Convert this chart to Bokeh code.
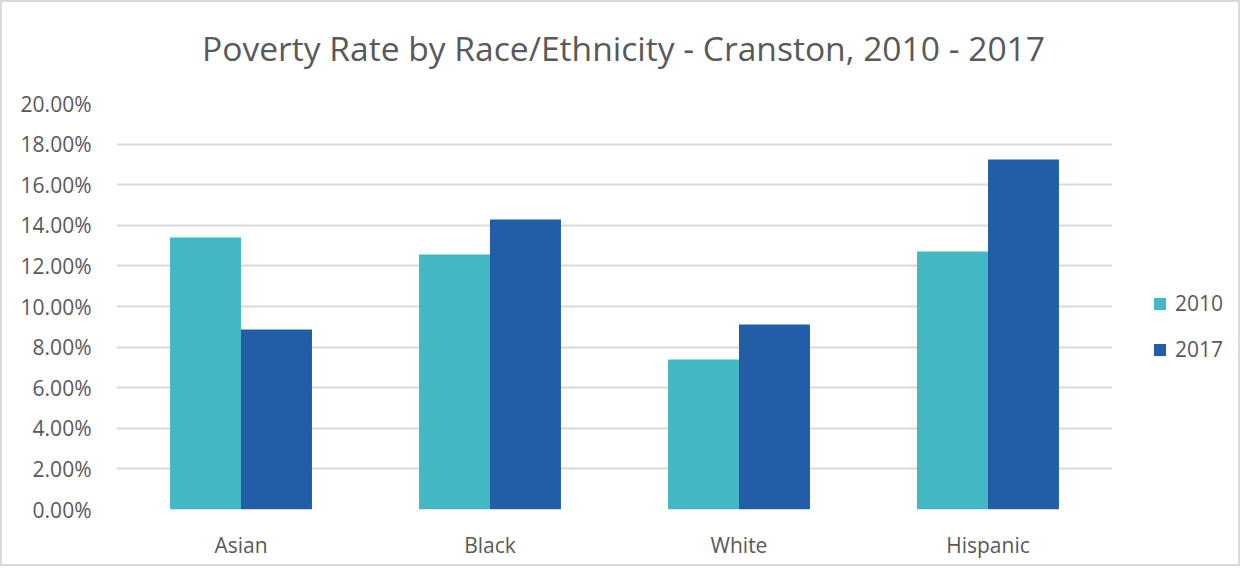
from bokeh.plotting import figure
from bokeh.layouts import row, column
from bokeh.models import ColumnDataSource, FactorRange, NumeralTickFormatter, Label
from bokeh.transform import dodge
from bokeh.embed import file_html
from bokeh.resources import INLINE

title_text = "Poverty Rate by Race/Ethnicity - Cranston, 2010 - 2017"
categories = ["Asian", "Black", "White", "Hispanic"]
years = ["2010", "2017"]
rate_2010 = [0.1340, 0.1256, 0.0739, 0.1271]
rate_2017 = [0.0887, 0.1429, 0.0911, 0.1724]
y_ticks = [0.0, 0.02, 0.04, 0.06, 0.08, 0.10, 0.12, 0.14, 0.16, 0.18, 0.20]

c2010 = "#41b8c4"
c2017 = "#225ea8"
txt = "#595959"
FONT = "Open Sans"

# title strip
tfig = figure(width=1236, height=81, x_range=(0, 1), y_range=(0, 1),
              output_backend="svg", toolbar_location=None, min_border=0)
tfig.axis.visible = False
tfig.grid.visible = False
tfig.outline_line_color = None
tfig.add_layout(Label(x=621, y=36, x_units="screen", y_units="screen", text=title_text,
                      text_align="center", text_baseline="middle", text_font=FONT,
                      text_font_size="33.6px", text_color=txt))

src = ColumnDataSource(dict(cat=categories, r2010=rate_2010, r2017=rate_2017))

p = figure(x_range=FactorRange(*categories, range_padding=0), y_range=(0, 0.2),
           width=1110, height=481, output_backend="svg", toolbar_location=None,
           min_border_left=114, min_border_right=0, min_border_top=20, min_border_bottom=55)

w = 0.285
p.vbar(x=dodge("cat", -w / 2, range=p.x_range), top="r2010", width=w, source=src,
       fill_color=c2010, line_color=None)
p.vbar(x=dodge("cat", w / 2, range=p.x_range), top="r2017", width=w, source=src,
       fill_color=c2017, line_color=None)

p.yaxis.ticker = y_ticks
p.yaxis.formatter = NumeralTickFormatter(format="0.00%")
for ax in (p.xaxis[0], p.yaxis[0]):
    ax.axis_line_color = None
    ax.major_tick_line_color = None
    ax.minor_tick_line_color = None
    ax.major_label_text_font = FONT
    ax.major_label_text_font_size = "21px"
    ax.major_label_text_color = txt
p.yaxis.major_label_standoff = 19
p.xaxis.major_label_standoff = 15

p.xgrid.grid_line_color = None
p.ygrid.ticker = y_ticks
p.ygrid.grid_line_color = "#d9d9d9"
p.ygrid.grid_line_width = 2
p.outline_line_color = None

# legend panel (separate figure to the right of the plot area)
leg = figure(width=126, height=481, x_range=(0, 1), y_range=(0, 1),
             output_backend="svg", toolbar_location=None, min_border=0)
leg.axis.visible = False
leg.grid.visible = False
leg.outline_line_color = None
leg_src = ColumnDataSource(dict(year=years, color=[c2010, c2017], x=[-5, -5], top=[0, 0]))
leg.vbar(x="x", top="top", width=0.1, fill_color="color", line_color=None,
         legend_group="year", source=leg_src)
lg = leg.legend[0]
lg.location = (40, 146)
lg.orientation = "vertical"
lg.glyph_width = 15
lg.glyph_height = 15
lg.spacing = 18
lg.label_text_font = FONT
lg.label_text_font_size = "21px"
lg.label_text_color = txt
lg.background_fill_alpha = 0
lg.border_line_color = None
lg.label_standoff = 8
lg.padding = 10
lg.margin = 0

layout = column(tfig, row(p, leg, spacing=0), spacing=0)
layout.styles = {"border": "2px solid #d9d9d9"}

open("out.html", "w").write(file_html(layout, INLINE))
